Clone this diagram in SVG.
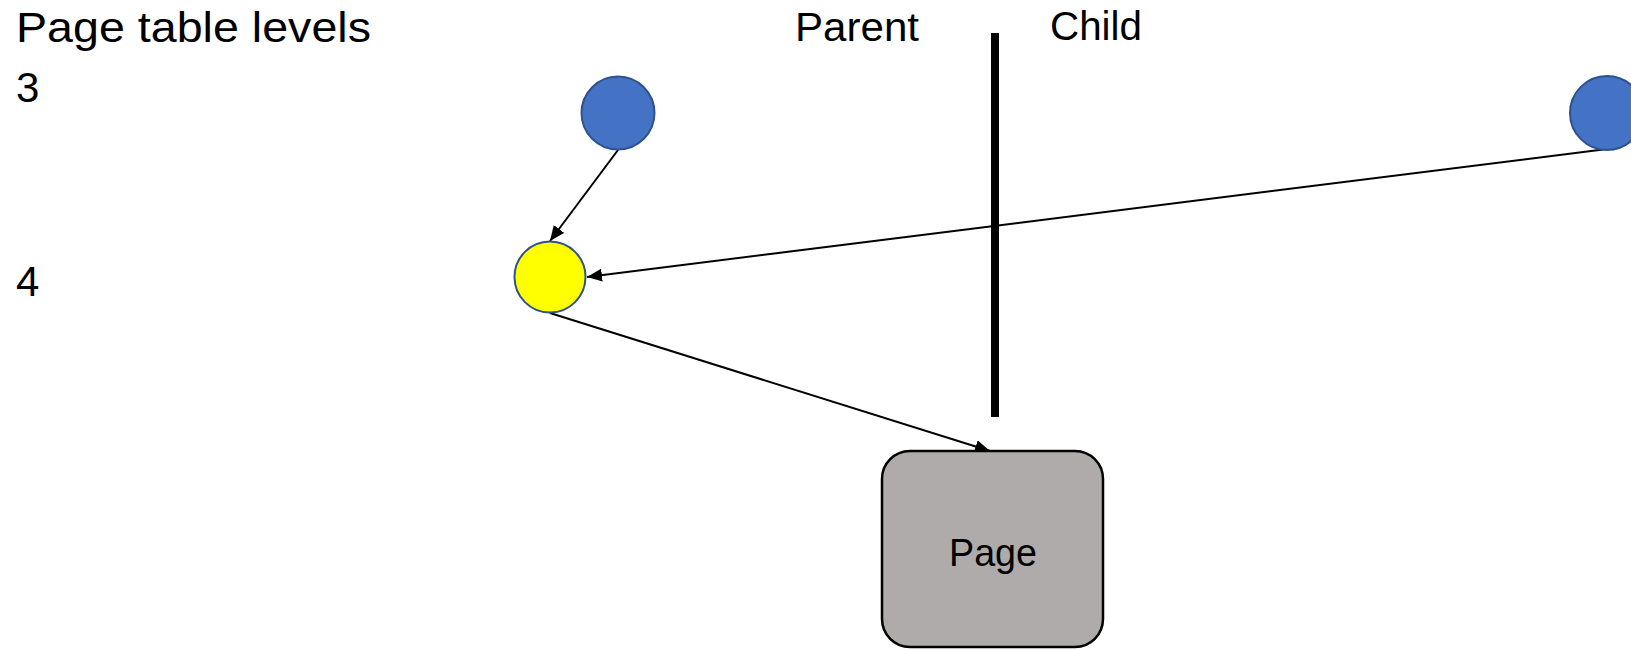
<svg xmlns="http://www.w3.org/2000/svg" width="1631" height="649" viewBox="0 0 1631 649">
  <style>
    .lbl { font-family: "Liberation Sans", Arial, sans-serif; fill: #000; }
    .table { fill: #4472C4; stroke: #2F528F; stroke-width: 2; }
    .hit { fill: #FFFF00; stroke: #2F528F; stroke-width: 2; }
    .page { fill: #AFABAB; stroke: #000; stroke-width: 2.5; }
    .edge { stroke: #000; stroke-width: 2; fill: none; marker-end: url(#arrow); }
  </style>
  <defs>
    <marker id="arrow" markerUnits="userSpaceOnUse" markerWidth="16" markerHeight="14" refX="15" refY="6.5" orient="auto">
      <path d="M0,0 L15,6.5 L0,13 z" fill="#000"/>
    </marker>
  </defs>
  <rect width="1631" height="649" fill="#fff"/>

  <!-- level labels -->
  <g id="levels">
    <text class="lbl" x="16" y="42" font-size="42" textLength="355" lengthAdjust="spacingAndGlyphs">Page table levels</text>
    <text class="lbl" x="16" y="102" font-size="42">3</text>
    <text class="lbl" x="16" y="296" font-size="42">4</text>
  </g>

  <!-- parent / child split -->
  <g id="divider">
    <text class="lbl" x="795" y="41" font-size="40" textLength="124" lengthAdjust="spacingAndGlyphs">Parent</text>
    <text class="lbl" x="1050" y="40" font-size="41" textLength="92" lengthAdjust="spacingAndGlyphs">Child</text>
    <line x1="995" y1="33" x2="995" y2="417" stroke="#000" stroke-width="8"/>
  </g>

  <g id="connectors">
    <line class="edge" x1="618" y1="150" x2="550" y2="241"/>
    <line class="edge" x1="1607" y1="149" x2="587" y2="277"/>
    <line class="edge" x1="550" y1="313" x2="990" y2="451"/>
  </g>

  <g id="parent-l3">
    <circle class="table" cx="618" cy="113" r="36.5"/>
  </g>
  <g id="child-l3">
    <circle class="table" cx="1607" cy="113" r="37"/>
  </g>
  <g id="shared-l4">
    <circle class="hit" cx="550" cy="277" r="35.5"/>
  </g>
  <g id="page">
    <rect class="page" x="882" y="451" width="221" height="196" rx="28" ry="28"/>
    <text class="lbl" x="993" y="566" font-size="39" text-anchor="middle" textLength="88" lengthAdjust="spacingAndGlyphs">Page</text>
  </g>
</svg>
